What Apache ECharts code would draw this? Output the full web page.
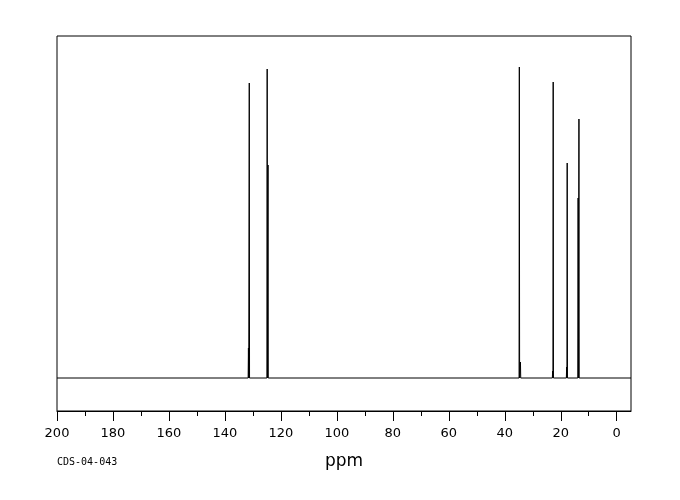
<!DOCTYPE html>
<html>
<head>
<meta charset="utf-8">
<script src="https://cdn.jsdelivr.net/npm/echarts@6/dist/echarts.min.js"></script>
<style>
html,body{margin:0;padding:0;background:#fff;}
#chart{width:680px;height:500px;}
</style>
</head>
<body>
<div id="chart"></div>
<script>
// Peak positions (ppm) and heights (arbitrary intensity units, baseline = 0)
var peakPpm    = [131.6, 131.3, 124.9, 124.6, 34.8, 34.4, 22.9, 22.7, 17.9, 17.7, 13.8, 13.5];
var peakHeight = [30,    295,   309,   213,   311,  16,   7,    296,  11,   215,  180,  259];
var majorTickLabels = [0, 20, 40, 60, 80, 100, 120, 140, 160, 180, 200];
var minorTicks = [10, 30, 50, 70, 90, 110, 130, 150, 170, 190];
var axisMinPpm = -5.1, axisMaxPpm = 200;
var footnote = 'CDS-04-043';

// build spectrum trace (baseline with sticks at each peak), ordered by ppm descending
var peaks = peakPpm.map(function (p, i) { return [p, peakHeight[i]]; })
  .sort(function (a, b) { return b[0] - a[0]; });
var hw = 0.1;
var trace = [[axisMaxPpm, 0]];
peaks.forEach(function (pk) {
  trace.push([pk[0] + hw, 0]);
  trace.push([pk[0], pk[1]]);
  trace.push([pk[0] - hw, 0]);
});
trace.push([axisMinPpm, 0]);

var chart = echarts.init(document.getElementById('chart'), null, {renderer: 'canvas'});
chart.setOption({
  animation: false,
  backgroundColor: '#fff',
  grid: {left: 57, right: 49, top: 36, bottom: 89, show: true, borderColor: '#000', borderWidth: 1, backgroundColor: 'transparent'},
  xAxis: [{
    type: 'value', min: axisMinPpm, max: axisMaxPpm, inverse: true, position: 'bottom',
    axisLine: {show: true, onZero: false, lineStyle: {color: '#000', width: 1}},
    axisTick: {show: true, customValues: majorTickLabels, length: 10, lineStyle: {color: '#000', width: 1}},
    axisLabel: {show: true, customValues: majorTickLabels, margin: 16, color: '#000', fontSize: 13, fontFamily: 'DejaVu Sans'},
    splitLine: {show: false},
    name: 'ppm', nameLocation: 'middle', nameGap: 42,
    nameTextStyle: {color: '#000', fontSize: 17, fontFamily: 'DejaVu Sans'}
  }, {
    type: 'value', min: axisMinPpm, max: axisMaxPpm, inverse: true, position: 'bottom',
    axisLine: {show: false, onZero: false},
    axisTick: {show: true, customValues: minorTicks, length: 5, lineStyle: {color: '#000', width: 1}},
    axisLabel: {show: false},
    splitLine: {show: false}
  }],
  yAxis: {type: 'value', min: -33, max: 342, show: false, splitLine: {show: false}},
  series: [{
    type: 'line', xAxisIndex: 0, data: trace, showSymbol: false, symbol: 'none',
    lineStyle: {color: '#000', width: 1}, clip: true
  }],
  graphic: [{
    type: 'text', left: 57, top: 457,
    style: {text: footnote, fill: '#000', fontSize: 10, fontFamily: 'DejaVu Sans Mono'}
  }]
});
</script>
</body>
</html>
